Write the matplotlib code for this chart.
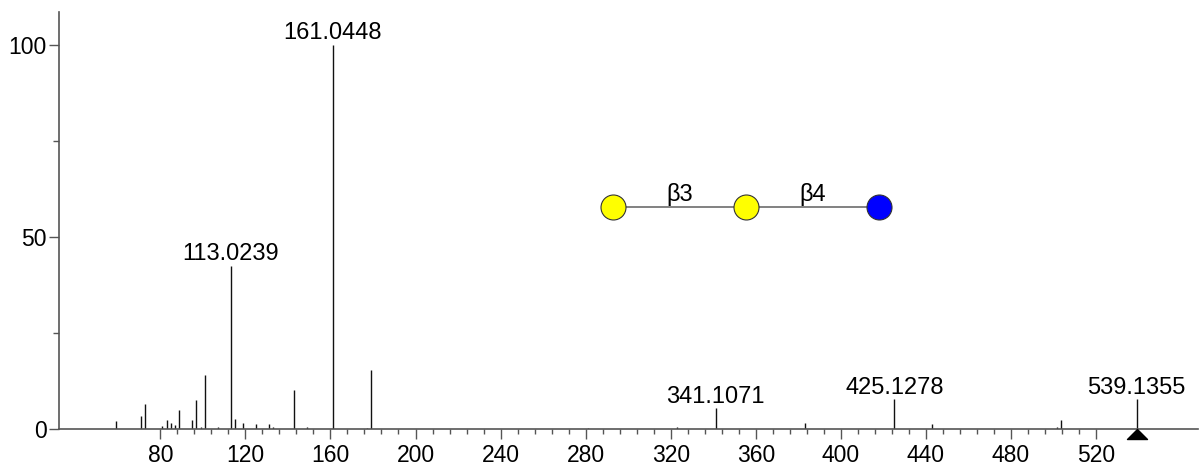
import numpy as np
import matplotlib
matplotlib.use('Agg')
import matplotlib.pyplot as plt
from matplotlib.ticker import MultipleLocator, FixedLocator

plt.rcParams['font.family'] = ['Liberation Sans', 'DejaVu Sans']

# Peak list (m/z, relative intensity %)
mz = [59.0, 71.0, 73.0, 81.0, 83.0, 85.0, 87.0, 89.0, 95.0, 97.0, 99.0, 101.0,
      107.0, 113.0239, 115.0, 119.0, 125.0, 131.0, 133.0, 143.0, 149.0,
      161.0448, 177.0, 179.0, 281.0, 323.0, 341.1071, 383.3, 425.1278,
      443.0, 501.8, 503.4, 539.1355]
intensity = [2.1, 3.5, 6.5, 0.8, 2.3, 1.6, 1.1, 5.0, 2.3, 7.6, 0.5, 14.1,
             0.4, 42.5, 2.5, 1.5, 1.3, 1.4, 0.6, 10.2, 0.4,
             100.0, 0.3, 15.3, 0.3, 0.5, 5.4, 1.5, 7.7,
             1.3, 0.4, 2.3, 7.7]
labelled = [113.0239, 161.0448, 341.1071, 425.1278, 539.1355]
precursor = 539.1355

# glycan cartoon: residue colours and linkages
residue_colors = ['#FFFF00', '#FFFF00', '#0000FF']
linkages = ['β3', 'β4']

axis_grey = '#555555'

fig = plt.figure(figsize=(12, 4.62), dpi=100)
ax = fig.add_axes([59 / 1200, 33 / 462, 1139 / 1200, 417 / 462])

ax.vlines(mz, 0, intensity, colors='#111111', linewidth=1.0)

for m, i in zip(mz, intensity):
    if m in labelled:
        ax.annotate(f'{m:.4f}', xy=(m, i), xytext=(0, 4), textcoords='offset points',
                    ha='center', va='baseline', fontsize=17)

# precursor marker: triangle hanging below the axis, apex on the baseline
tri = [(0, 0), (-1, -1), (1, -1), (0, 0)]
ax.plot([precursor], [0], marker=tri, markersize=14.4, color='black',
        linestyle='none', clip_on=False, zorder=5)

ax.set_xlim(32.36, 567.96)
ax.set_ylim(0, 108.6)

ax.xaxis.set_major_locator(FixedLocator(np.arange(80, 521, 40)))
ax.xaxis.set_minor_locator(FixedLocator(np.arange(80, 521, 8)))
ax.yaxis.set_major_locator(MultipleLocator(50))
ax.yaxis.set_minor_locator(MultipleLocator(25))

ax.tick_params(axis='x', which='major', length=7.2, width=1, color=axis_grey,
               labelsize=16.5, pad=3.8)
ax.tick_params(axis='x', which='minor', length=3.6, width=1, color=axis_grey)
ax.tick_params(axis='y', which='major', length=7.2, width=1, color=axis_grey,
               labelsize=16.5, pad=1.5)
ax.tick_params(axis='y', which='minor', length=4.3, width=1, color=axis_grey)

for s in ['top', 'right']:
    ax.spines[s].set_visible(False)
for s in ['left', 'bottom']:
    ax.spines[s].set_color(axis_grey)
    ax.spines[s].set_linewidth(1.2)

# glycan structure (axes fraction coordinates)
gx = [0.4867, 0.6029, 0.7199]
gy = 0.5317
ax.plot(gx, [gy] * 3, color='#777777', linewidth=1.3, transform=ax.transAxes, zorder=3)
for x, c in zip(gx, residue_colors):
    ax.plot([x], [gy], marker='o', markersize=18, markerfacecolor=c,
            markeredgecolor='#333333', markeredgewidth=0.8,
            transform=ax.transAxes, zorder=4)
for k, lab in enumerate(linkages):
    xm = (gx[k] + gx[k + 1]) / 2
    ax.text(xm, gy + 0.004, lab, transform=ax.transAxes, ha='center', va='bottom',
            fontsize=17, zorder=5,
            bbox=dict(facecolor='white', edgecolor='none', pad=0.5))

fig.savefig('out.png', dpi=100)
